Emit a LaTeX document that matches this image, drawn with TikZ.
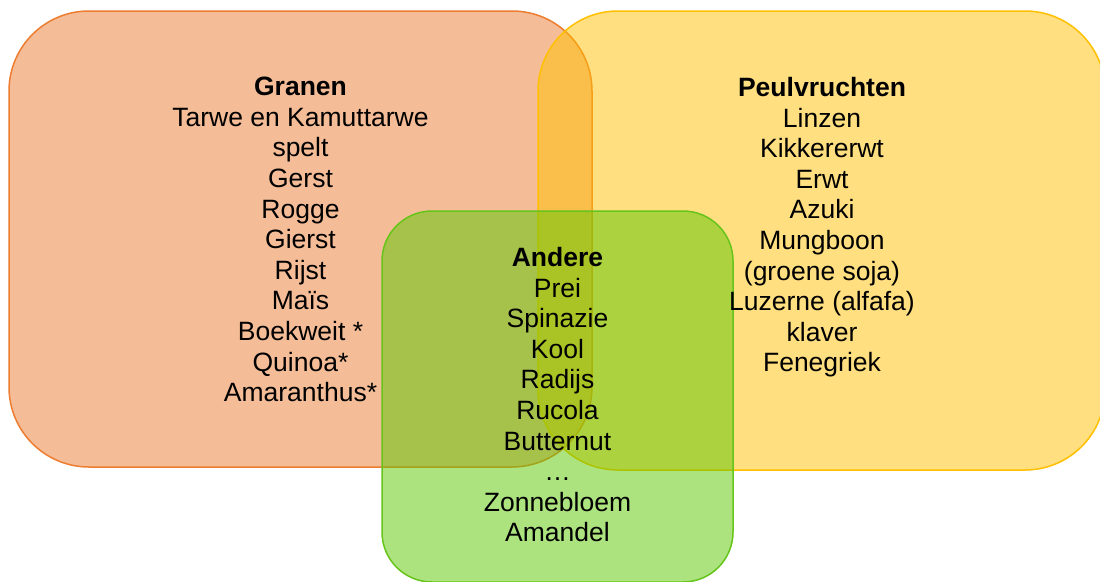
\documentclass[tikz,border=0pt]{standalone}
\usepackage{fontspec}
\setmainfont{Liberation Sans}
\definecolor{orangeD}{HTML}{ED7D31}
\definecolor{yellowD}{HTML}{FFC000}
\definecolor{greenD}{HTML}{5BC800}
\definecolor{greenB}{HTML}{66C41A}
\begin{document}
\begin{tikzpicture}[x=1pt,y=-1pt,
  blob/.style={line width=1.5pt, fill opacity=0.5},
  txt/.style={align=center, inner sep=0pt, anchor=north, text=black,
    font=\fontsize{26.5}{30.6}\selectfont}]
\useasboundingbox (0,0) rectangle (1100,581);
\fill[white] (0,0) rectangle (1100,581);
\clip (0,0) rectangle (1100,581);
\draw[blob, draw=orangeD, fill=orangeD, rounded corners=80pt] (9,11) rectangle (592,467);
\draw[blob, draw=yellowD, fill=yellowD, rounded corners=80pt] (538,11) rectangle (1105,470);
\draw[blob, draw=greenB, fill=greenD, rounded corners=50pt] (382,211) rectangle (733,582);
\node[txt] (granen) at (300.5,77) {\textbf{Granen}\\Tarwe en Kamuttarwe\\spelt\\Gerst\\Rogge\\Gierst\\Rijst\\Maïs\\Boekweit *\\Quinoa*\\Amaranthus*};
\node[txt] (peul) at (822,77) {\textbf{Peulvruchten}\\Linzen\\Kikkererwt\\Erwt\\Azuki\\Mungboon\\(groene soja)\\Luzerne (alfafa)\\klaver\\Fenegriek};
\node[txt] (andere) at (557.5,247) {\textbf{Andere}\\Prei\\Spinazie\\Kool\\Radijs\\Rucola\\Butternut\\…\\Zonnebloem\\Amandel};
\end{tikzpicture}
\end{document}
